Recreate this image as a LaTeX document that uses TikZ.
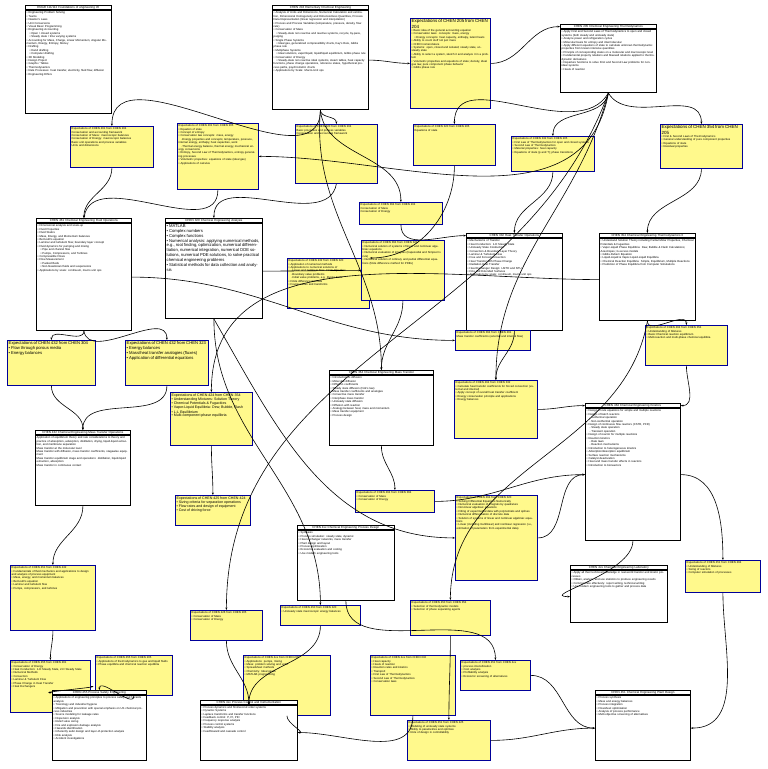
\documentclass[tikz,border=0pt]{standalone}
\usepackage{fontspec}
\setmainfont{Liberation Sans}
\usetikzlibrary{arrows.meta}
\tikzset{
  coursetitle/.style = {draw, thick, fill=white, inner sep=0.8pt, align=center,
                        font=\fontsize{3}{3.5}\selectfont},
  coursebody/.style  = {draw, thick, fill=white, anchor=north west},
  expbox/.style      = {draw=blue!60!black, line width=0.8pt, fill=yellow!45, anchor=north west},
  boxtext/.style     = {inner sep=1.5pt, align=left, anchor=north west,
                        font=\fontsize{2.8}{3.4}\selectfont},
  link/.style        = {-{Stealth[length=2.5pt]}, semithick}
}
% course box: name, x, y, width, height, title, body
\newcommand\course[7]{%
  \node[coursetitle, minimum width=#4pt, text width=#4pt-2pt, anchor=north west] (#1t) at (#2,#3) {#6};
  \node[coursebody, minimum width=#4pt, minimum height=#5pt-5pt] (#1) at (#1t.south west) {};
  \node[boxtext, text width=#4pt-3pt] at (#1.north west) {#7};}
% expectation box: name, x, y, width, height, body
\newcommand\expect[6]{%
  \node[expbox, minimum width=#4pt, minimum height=#5pt] (#1) at (#2,#3) {};
  \node[boxtext, text width=#4pt-3pt] at (#1.north west) {#6};}
\newcommand\bl{\textbullet~}
\begin{document}
\begin{tikzpicture}[x=1pt,y=-1pt]
\useasboundingbox[fill=white] (0,0) rectangle (768,769);

\course{engr}{25}{5}{86}{108}{ENGR 111/112 Foundations of engineering I/II}{\bl Engineering Problem Solving\\\bl Teams\\\bl Newton's Laws\\\bl Unit Conversions\\\bl Visual Basic Programming\\\bl Engineering Accounting\\\quad\bl Open / closed systems\\\quad\bl Steady state / time varying systems\\\bl Accounting for Mass, Charge, Linear Momentum, Angular Momentum, Energy, Entropy, Money\\\bl Drafting\\\quad\bl Hand drafting\\\quad\bl Computer drafting\\\bl 3D Modeling\\\bl Design Project\\\bl Graphs / Tables\\\bl Thermodynamics\\\bl Rate Processes: heat transfer, electricity, fluid flow, diffusion\\\bl Engineering Ethics}
\course{c204}{272}{5}{96}{104}{CHEN 204 Elementary Chemical Engineering}{\bl Analysis of Units and Dimensions, Numerical Calculation and estimation, Dimensional Homogeneity and Dimensionless Quantities, Process Data Representation (linear regression and interpolation)\\\bl Process and Process Variables (temperature, pressure, density, flow rate)\\\bl Conservation of Mass\\\quad\bl Steady-state non reactive and reactive systems, recycle, by-pass, purging\\\bl Single Phase Systems\\\quad\bl Ideal gas, generalized compressibility charts, Kay's Rule, Gibbs phase rule\\\bl Multiphase Systems\\\quad\bl Ideal solutions, vapor/liquid, liquid/liquid equilibrium, Gibbs phase rule\\\bl Conservation of Energy\\\quad\bl Steady-state non reactive ideal systems, steam tables, heat capacity functions, phase change operations, reference states, hypothetical process paths, psychrometric charts\\\bl Applications by Scale: Macro-Unit ops}
\expect{e205a}{410}{18}{80}{90}{{\fontsize{4.5}{5}\selectfont Expectations of CHEN 205 from CHEN 204}\\\bl Basic idea of the general accounting equation\\\bl Conservation laws: concepts: mass, energy\\\quad\bl Energy concepts: heat capacity, enthalpy, latent heats\\\bl Ability to count stuff not just mass\\\bl CHEN nomenclature\\\bl Systems: open, closed and isolated; steady state, unsteady state\\\bl Ability to select a system, sketch it and analyze it in a problem\\\bl Volumetric properties and equations of state; density, ideal gas law, pure component phase behavior\\\bl Gibbs phase rule}
\course{c205}{560}{24}{96}{68}{CHEN 205 Chemical Engineering Thermodynamics}{\bl Apply First and Second Laws of Thermodynamics to open and closed systems (both steady and unsteady state)\\\bl Analyze power and refrigeration cycles\\\bl Molecular basis for entropy and intermolecular\\\bl Apply different equations of state to calculate unknown thermodynamic properties from known intensive quantities\\\bl Principle of corresponding states on a molecular and macroscopic level\\\bl Fundamental property relations and Maxwell relations applied to thermodynamic derivatives\\\bl Departure functions to solve First and Second Law problems for non-ideal systems\\\bl Heats of reaction}

\expect{e461a}{70}{126}{83}{41}{Expectations of CHEN 461 from CHEN 204\\Conservation and accounting framework\\Conservation of Mass: macroscopic balances\\Conservation of Energy: macroscopic balances\\Basic unit operations and process variables\\Units and dimensions}
\expect{e461b}{177}{123}{81}{66}{Expectations of CHEN 461 from CHEN 205\\\bl Equation of state\\\bl Concept of entropy\\\bl Conservation law concepts: mass, energy\\\quad -Energy properties and concepts; temperature, pressure, internal energy, enthalpy, heat capacities, work\\\quad -Thermal energy balance, thermal energy, mechanical energy conversions\\\bl Entropy, Second Law of Thermodynamics, entropy generating processes\\\bl Volumetric properties: equations of state (ideal gas)\\\bl Applications of calculus}
\expect{e320a}{295}{124}{82}{59}{Expectations of CHEN 320 from CHEN 204\\Basic processes and process variables\\Conservation and accounting framework}
\expect{e320b}{413}{124}{82}{41}{Expectations of CHEN 320 from CHEN 205\\Equations of state}
\expect{e332a}{511}{136}{83}{35}{Expectations of CHEN 332 from CHEN 205\\\bl First Law of Thermodynamics for open and closed systems\\\bl Second Law of Thermodynamics\\\bl Material properties: heat capacity\\\bl Equations of state (p and T); phase transitions}
\expect{e354a}{660}{124}{82}{44}{{\fontsize{4.5}{5}\selectfont Expectations of CHEN 354 from CHEN 205}\\\bl First \& Second Laws of Thermodynamics\\\bl General understanding of pure component properties\\\bl Equations of state\\\bl Residual properties}

\course{c461}{36}{218}{95}{112}{CHEN 461 Chemical Engineering Fluid Operations}{\bl Dimensional analysis and scale-up\\\bl Fluid Properties\\\bl Fluid Statics\\\bl Mass, Energy, and Momentum balances\\\bl Bernoulli's equation\\\bl Laminar and turbulent flow; boundary layer concept\\\bl Fluid dynamics for pumping and mixing\\\quad\bl Pipe and channel flow\\\quad\bl Pumps, Compressors, and Turbines\\\bl Compressible Flows\\\bl Flow Measurement\\\quad\bl Packed Beds\\\quad\bl Non-Newtonian fluids and suspensions\\\bl Applications by scale: continuum, macro unit ops}
\course{c320}{165}{218}{97}{100}{CHEN 320 Chemical Engineering Analysis}{\fontsize{4.2}{4.8}\selectfont\bl MATLAB\\\bl Complex numbers\\\bl Complex functions\\\bl Numerical analysis: applying numerical methods, e.g., root finding, optimization, numerical differentiation, numerical integration, numerical ODE solutions, numerical PDE solutions, to solve practical chemical engineering problems\\\bl Statistical methods for data collection and analysis}
\expect{e3xx}{359}{202}{83}{22}{Expectations of CHEN 364 from CHEN 204\\Conservation of Mass\\Conservation of Energy}
\expect{e432c}{287}{258}{82}{50}{Expectations of CHEN 432 from CHEN 320\\\bl Application of numerical methods\\\bl Applications to numerical solutions of\\\quad -Linear and nonlinear flow: Finite Pipe flow\\\quad -Boundary value problems\\\quad -Initial value problems, e.g. Runge-Kutta\\\bl Finite difference methods\\\bl Fourier series and transforms}
\expect{e364b}{361}{240}{83}{60}{Expectations of CHEN 364 from CHEN 320\\\bl Numerical solution of systems of linear and nonlinear algebraic equations\\\bl Numerical evaluation of integrals (trapezoidal and Simpson's rule)\\\bl Numerical solution of ordinary and partial differential equations (finite difference method for PDEs)}
\course{c332}{466}{233}{96}{97}{CHEN 332 Heat Transfer Operations}{\bl Mechanisms of Transfer\\\bl Heat Conduction: 1-D Steady State\\\bl Unsteady State Conduction\\\bl Convection \& Boundary Layer Theory\\\bl Laminar \& Turbulent Flow\\\bl Free and Forced Convection\\\bl Heat Transfer with Phase Change\\\bl Radiation Heat Transfer\\\bl Heat Exchanger Design: LMTD and NTU\\\bl Fins and Extended Surfaces\\\bl Applications by scale: continuum, macro unit ops}
\course{c354}{599}{233}{96}{87}{CHEN 354 Chemical Engineering Thermodynamics II}{\bl Understand Solution Theory including Partial Molar Properties, Chemical Potentials \& Fugacities\\\bl Vapor-Liquid Phase Equilibria: Dew, Bubble \& Flash Calculations; Azeotropes; G excess models\\\bl Gibbs-Duhem Equation\\\bl Liquid-Liquid \& Vapor-Liquid-Liquid Equilibria\\\bl Chemical Reaction Equilibria: Simple, Equilibrium, Multiple Reactions\\\bl Prediction of Phase Equilibria from Computer Simulations}

\expect{e432a}{7}{340}{88}{45}{\fontsize{4.2}{4.8}\selectfont Expectations of CHEN 432 from CHEN 304\\\bl Flow through porous media\\\bl Energy balances}
\expect{e4xx}{125}{340}{83}{45}{\fontsize{4.2}{4.8}\selectfont Expectations of CHEN 432 from CHEN 323\\\bl Energy balances\\\bl Mass/heat transfer analogies (fluxes)\\\bl Application of differential equations}
\expect{e364a}{455}{330}{75}{20}{Expectations of CHEN 364 from CHEN 461\\Mass transfer coefficients (external and internal flow)}
\expect{e464a}{645}{325}{82}{40}{Expectations of CHEN 464 from CHEN 354\\\bl Understanding of Mixtures\\\bl Basic Chemical reaction equilibrium\\\bl Multi-reaction and multi-phase chemical equilibria}
\course{c364}{329}{370}{104}{75}{CHEN 364 Chemical Engineering Mass Transfer}{\bl Introduction to diffusion\\\bl Molecular diffusion\\\bl Diffusion coefficients\\\bl Steady state diffusion (Fick's law)\\\bl Mass transfer coefficients and analogies\\\bl Convective mass transfer\\\bl Interphase mass transfer\\\bl Unsteady state diffusion\\\bl Diffusion with reaction\\\bl Analogy between heat, mass and momentum\\\bl Mass transfer equipment\\\bl Process design}
\expect{e464b}{454}{380}{83}{58}{Expectations of CHEN 464 from CHEN 332\\\bl Calculate heat transfer coefficients for forced convection (external and internal)\\\bl Apply concept of overall heat transfer coefficient\\\bl Energy conservation principle and applications\\\bl Energy balances}
\expect{e425a}{170}{392}{82}{53}{\fontsize{3.6}{4.2}\selectfont Expectations of CHEN 424 from CHEN 354\\\bl Understanding Mixtures: Solution Theory\\\bl Chemical Potentials \& Fugacities\\\bl Vapor-Liquid Equilibria: Dew, Bubble, Flash\\\bl L-L Equilibrium\\\bl Multi-component phase equilibria}
\course{c464}{585}{403}{95}{137}{CHEN 464 Chemical Engineering Kinetics}{\bl Design of rate equations for simple and multiple reactions\\\bl Design of batch reactors\\\quad - Isothermal operation\\\quad - Non-isothermal operation\\\bl Design of continuous flow reactors (CSTR, PFR)\\\quad - Steady state operation\\\quad - Transient operation\\\bl Design of reactor for multiple reactions\\\bl Reaction kinetics\\\quad - Rate laws\\\quad - Reaction mechanisms\\\bl Introduction to heterogeneous kinetics\\\bl Adsorption/desorption equilibrium\\\bl Surface reaction mechanisms\\\bl Catalyst deactivation\\\bl Heat and mass transfer effects in reactors\\\bl Introduction to bioreactors}
\course{c432}{35}{430}{95}{75}{CHEN 432 Chemical Engineering Mass Transfer Operations}{Application of equilibrium theory and rate considerations to theory and practice of absorption, adsorption, distillation, drying, liquid-liquid extraction, and membrane separation\\Mass transfer at the molecular level\\Mass transfer with diffusion, mass transfer coefficients, stagewise equipment\\Mass transfer equilibrium stage and operations: distillation, liquid-liquid extraction, absorption\\Mass transfer in continuous contact}
\expect{e425b}{175}{495}{75}{30}{\fontsize{3.6}{4.2}\selectfont Expectations of CHEN 425 from CHEN 424\\\bl Sizing criteria for separation operations\\\bl Flow rates and design of equipment\\\bl Cost of driving force}
\expect{e464c}{355}{490}{79}{22}{Expectations of CHEN 464 from CHEN 364\\\bl Conservation of Mass\\\bl Conservation of Energy}
\course{c4des}{297}{525}{97}{75}{CHEN 4xx Chemical Engineering Process Design}{\bl Synthesis\\\bl Process simulation: steady state, dynamic\\\bl Heat exchanger networks, mass transfer\\\bl Plant design and layout\\\bl Process optimization\\\bl Economic evaluation and costing\\\bl Use modern engineering tools}
\expect{e464d}{455}{495}{82}{85}{Expectations of CHEN 464 from CHEN 320\\\bl Solving Differential Equations Numerically\\\bl Numerical evaluation of integrals by quadrature\\\bl Non-linear algebraic equations\\\bl Fitting of experimental data with polynomials and splines\\\bl Numerical differentiation of discrete data\\\bl Solution of systems of linear and nonlinear algebraic equations\\\bl Linear (including multilinear) and nonlinear regression (i.e., estimation of parameters from experimental data)}
\course{clab}{570}{565}{97}{57}{CHEN 4xx Chemical Engineering Laboratory}{\bl Apply all their technical knowledge in real-world transfer and kinetic processes\\\bl Obtain, analyze, and use statistics to produce engineering results\\\bl Communicate effectively: report writing, technical writing\\\bl Use modern engineering tools to gather and process data}
\expect{e451a}{685}{560}{75}{32}{Expectations of CHEN 451 from CHEN 464\\\bl Understanding of Mixtures\\\bl Sizing of reactors\\\bl Computer simulation of processes}
\expect{e451b}{10}{565}{85}{65}{Expectations of CHEN 451 from CHEN 432\\\bl Fundamentals of fluid mechanics and applications to design and analysis of process equipment\\\bl Mass, energy, and momentum balances\\\bl Bernoulli's equation\\\bl Laminar and turbulent flow\\\bl Pumps, compressors, and turbines}
\expect{e426}{190}{610}{72}{30}{Expectations of CHEN 426 from CHEN 205\\\bl Conservation of Mass\\\bl Conservation of Energy}
\expect{e450a}{280}{605}{80}{20}{Expectations of CHEN 450 from CHEN 320\\\bl Unsteady state macroscopic energy balances}
\expect{e450b}{410}{600}{80}{35}{Expectations of CHEN 450 from CHEN 354\\\bl Selection of thermodynamic models\\\bl Selection of phase separating agents}
\expect{e451c}{10}{660}{80}{52}{Expectations of CHEN 455 from CHEN 461\\\bl Conservation of Energy\\\bl Heat Conduction: 1-D Steady State, 2-D Steady State\\\bl Numerical Methods\\\bl Convection\\\bl Laminar \& Turbulent Flow\\\bl Phase Change in Heat Transfer\\\bl Heat Exchangers}
\expect{e451d}{95}{655}{77}{40}{Expectations of CHEN 455 from CHEN 205\\\bl Applications of thermodynamics to gas and liquid fluids\\\bl Phase equilibria and chemical reaction equilibria}
\expect{e425c}{243}{655}{87}{60}{Expectations of CHEN 4xx from CHEN 205\\\bl Applications: pumps, mixing\\\bl Mass: problem solving and units\\\bl Spreadsheet methods\\\bl Chemistry: Ideal gases\\\bl MATLAB programming}
\expect{e425d}{370}{655}{85}{60}{Expectations of CHEN 4xx from CHEN 332\\\bl Heat capacity\\\bl Heats of reaction\\\bl Reaction rates and kinetics\\\bl Transport\\\bl First Law of Thermodynamics\\\bl Second Law of Thermodynamics\\\bl Conservation laws}
\expect{e451e}{460}{660}{70}{30}{Expectations of CHEN 451 from CHEN 4xx\\\bl process intensification\\\bl Cost analysis\\\bl Profitability analysis\\\bl Economic screening of alternatives}
\course{c455}{52}{690}{94}{70}{CHEN 455 Process Safety Engineering}{\bl Applications of engineering principles to process safety and hazards analysis\\\bl Toxicology and industrial hygiene\\\bl Mitigation and prevention with special emphasis on US chemical process industries\\\bl Source modeling for leakage rates\\\bl Dispersion analysis\\\bl Relief valve sizing\\\bl Fire and explosion damage analysis\\\bl Hazards identification\\\bl Inherently safer design and layer-of-protection analysis\\\bl Risk analysis\\\bl Accident investigations}
\course{cctl}{200}{700}{97}{60}{CHEN 4xx Process Control and Instrumentation}{\bl Process dynamics and first/second order systems\\\bl Dynamic Systems\\\bl Laplace transforms and transfer functions\\\bl Feedback control: P, PI, PID\\\bl Frequency response analysis\\\bl Process control systems\\\bl Stability analysis\\\bl Feedforward and cascade control}
\expect{e451f}{407}{720}{83}{40}{Expectations of CHEN 451 from CHEN 425\\\bl Modeling of unsteady state systems\\\bl Ability to parametrize and optimize\\\bl Role of design in controllability}
\course{c451}{595}{690}{95}{70}{CHEN 451 Chemical Engineering Plant Design}{\bl Process synthesis\\\bl Mass and energy balances\\\bl Process integration\\\bl Flowsheet optimization\\\bl Analysis of process performance\\\bl Multi-objective screening of alternatives}

% connectors
\draw[link] (c204.east) to[out=0,in=180] (e205a.west);
\draw[link] (e205a.east) to[out=0,in=180] (c205t.west);
\draw[link] (c204.south) to[out=-90,in=90] (e461a.north);
\draw[link] (c204.south) to[out=-90,in=90] (e320a.north);
\draw[link] (c205.south) to[out=-100,in=0] (e461b.east);
\draw[link] (c205.south) to[out=-120,in=90] (e320b.north);
\draw[link] (c205.south) to[out=-100,in=90] (e332a.north);
\draw[link] (c205.south) to[out=-60,in=90] (e354a.north);
\draw[link] (e461a.south) to[out=-90,in=90] (c461t.north);
\draw[link] (e461b.south) to[out=-90,in=80] (c461t.north);
\draw[link] (e320a.south) to[out=-100,in=90] (c320t.north);
\draw[link] (e320b.south) to[out=-90,in=0] (e432c.north east);
\draw[link] (e332a.south) to[out=-90,in=90] (c332t.north);
\draw[link] (e354a.south) to[out=-90,in=90] (c354t.north);
\draw[link] (c204.south) to[out=-85,in=90] (e3xx.north);
\draw[link] (e3xx.south) to[out=-90,in=180] (c332t.west);
\draw[link] (c204.south) to[out=-95,in=90] (c364t.north);
\draw[link] (c205.south) to[out=-105,in=90] (e464b.north);
\draw[link] (c320.east) to[out=0,in=180] (e364b.west);
\draw[link] (c461.south) to[out=-90,in=90] (e432a.north);
\draw[link] (c461.south) to[out=-80,in=90] (e4xx.north);
\draw[link] (e364b.south) to[out=-90,in=90] (c364t.north);
\draw[link] (c332.south) to[out=-90,in=90] (e464b.north);
\draw[link] (c354.south) to[out=-90,in=90] (e464a.north);
\draw[link] (c461.east) to[out=0,in=180] (e364a.west);
\draw[link] (e464a.south) to[out=-90,in=0] (c464t.east);
\draw[link] (e464b.east) to[out=0,in=180] (c464t.west);
\draw[link] (e432a.south) to[out=-90,in=90] (c432t.north);
\draw[link] (e4xx.south) to[out=-90,in=90] (c432t.north);
\draw[link] (c354.west) to[out=180,in=90] (e425a.north);
\draw[link] (e425a.south) to[out=-90,in=90] (e425b.north);
\draw[link] (c364.south) to[out=-90,in=90] (e464c.north);
\draw[link] (e464c.east) to[out=0,in=180] (c464.west);
\draw[link] (c320.south) to[out=-60,in=180] (e464d.west);
\draw[link] (e464d.east) to[out=0,in=180] (c464.west);
\draw[link] (c464.south) to[out=-90,in=180] (clab.west);
\draw[link] (c464.east) to[out=0,in=90] (e451a.north);
\draw[link] (e451a.south) to[out=-90,in=0] (c451.east);
\draw[link] (c432.south) to[out=-90,in=90] (e451b.north);
\draw[link] (c205.south) to[out=-110,in=90] (e426.north);
\draw[link] (c320.south) to[out=-90,in=90] (e450a.north);
\draw[link] (c354.south) to[out=-100,in=90] (e450b.north);
\draw[link] (e451b.south) to[out=-90,in=90] (e451c.north);
\draw[link] (e451c.east) to[out=0,in=180] (c455t.west);
\draw[link] (e451d.south) to[out=-90,in=90] (c455t.north);
\draw[link] (e426.south) to[out=-90,in=90] (cctl.north);
\draw[link] (e450a.south) to[out=-90,in=90] (cctl.north);
\draw[link] (e425c.south) to[out=-90,in=0] (cctl.east);
\draw[link] (e425d.south) to[out=-90,in=0] (cctl.east);
\draw[link] (e450b.south) to[out=-90,in=90] (e451f.north);
\draw[link] (e451e.east) to[out=0,in=180] (c451.west);
\draw[link] (e451f.east) to[out=0,in=180] (c451.west);
\draw[link] (c4des.south) to[out=-90,in=90] (e451e.north);
\end{tikzpicture}
\end{document}
